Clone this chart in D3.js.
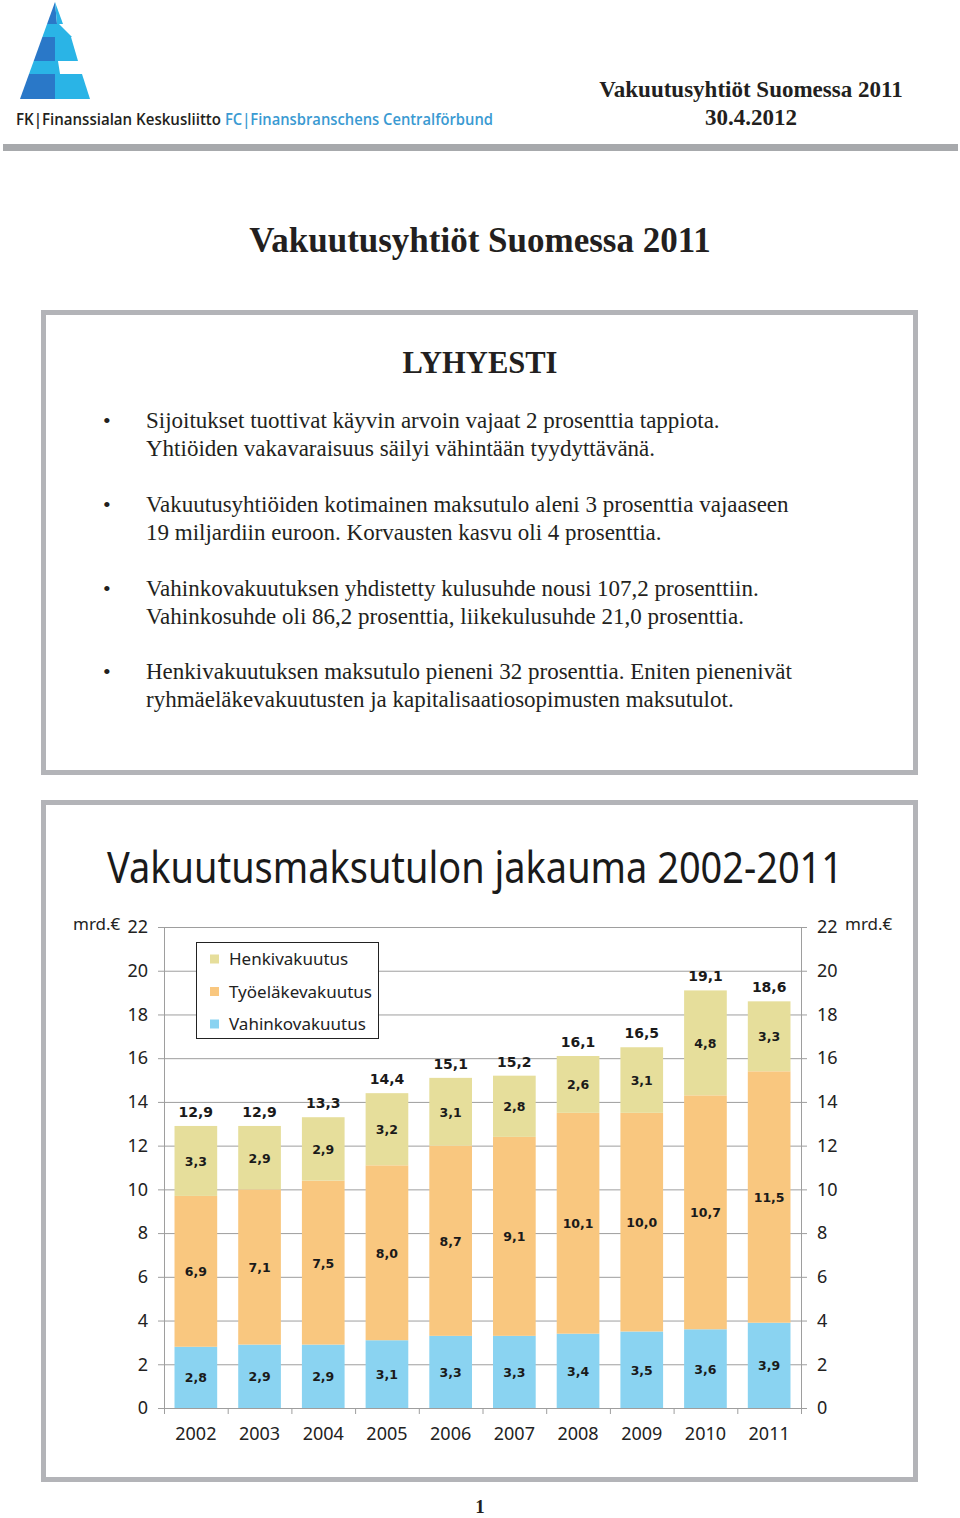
<!DOCTYPE html>
<html>
<head>
<meta charset="utf-8">
<script src="https://cdn.jsdelivr.net/npm/d3@7"></script>
<style>
  html, body { margin: 0; padding: 0; background: #fff; }
  svg { display: block; }
</style>
</head>
<body>
<script>
// ---------- DATA ----------
const years = ["2002","2003","2004","2005","2006","2007","2008","2009","2010","2011"];
const henkivakuutus = [3.3, 2.9, 2.9, 3.2, 3.1, 2.8, 2.6, 3.1, 4.8, 3.3];
const tyoelakevakuutus = [6.9, 7.1, 7.5, 8.0, 8.7, 9.1, 10.1, 10.0, 10.7, 11.5];
const vahinkovakuutus = [2.8, 2.9, 2.9, 3.1, 3.3, 3.3, 3.4, 3.5, 3.6, 3.9];
const totals = [12.9, 12.9, 13.3, 14.4, 15.1, 15.2, 16.1, 16.5, 19.1, 18.6];
const yTicks = [0, 2, 4, 6, 8, 10, 12, 14, 16, 18, 20, 22];
const seriesNames = ["Henkivakuutus", "Työeläkevakuutus", "Vahinkovakuutus"];
const seriesColors = ["#e6de9b", "#f9c77f", "#8ad3f1"];

const bullets = [
  ["Sijoitukset tuottivat käyvin arvoin vajaat 2 prosenttia tappiota.",
   "Yhtiöiden vakavaraisuus säilyi vähintään tyydyttävänä."],
  ["Vakuutusyhtiöiden kotimainen maksutulo aleni 3 prosenttia vajaaseen",
   "19 miljardiin euroon. Korvausten kasvu oli 4 prosenttia."],
  ["Vahinkovakuutuksen yhdistetty kulusuhde nousi 107,2 prosenttiin.",
   "Vahinkosuhde oli 86,2 prosenttia, liikekulusuhde 21,0 prosenttia."],
  ["Henkivakuutuksen maksutulo pieneni 32 prosenttia. Eniten pienenivät",
   "ryhmäeläkevakuutusten ja kapitalisaatiosopimusten maksutulot."]
];

// ---------- PAGE ----------
const W = 960, H = 1518;
const svg = d3.select("body").append("svg").attr("width", W).attr("height", H);
svg.append("rect").attr("width", W).attr("height", H).attr("fill", "#fff");

const serif = "'Liberation Serif', 'Times New Roman', serif";
const sans = "'Noto Sans', 'Open Sans', sans-serif";

// Logo
const logo = svg.append("g");
const dark = "#2a78c8", light = "#2ab4e6";
const lx = y => 55 - 35 * (y - 2) / 97;
const polys = [
  [[[55,2],[lx(24),24],[57,24]], dark],
  [[[55,2],[57,24],[63,24]], light],
  [[[lx(24),24],[lx(37),37],[72,37],[59,24]], light],
  [[[lx(37),37],[lx(61),61],[55,61],[55,37]], dark],
  [[[55,37],[55,61],[78,61],[71,37]], light],
  [[[lx(61),61],[lx(74),74],[60,74],[58,61]], light],
  [[[lx(74),74],[lx(99),99],[55,99],[55,74]], dark],
  [[[55,74],[55,99],[90,99],[82,74]], light]
];
polys.forEach(([pts, c]) => {
  logo.append("path").attr("d", "M" + pts.map(p => p.join(",")).join("L") + "Z").attr("fill", c);
});

svg.append("text").attr("x", 16).attr("y", 125)
  .attr("font-family", "'Open Sans', sans-serif").attr("font-size", 16).attr("font-weight", 600)
  .attr("fill", "#231f20").attr("textLength", 205).attr("lengthAdjust", "spacingAndGlyphs")
  .text("FK|Finanssialan Keskusliitto");
svg.append("text").attr("x", 225).attr("y", 125)
  .attr("font-family", "'Open Sans', sans-serif").attr("font-size", 16).attr("font-weight", 600)
  .attr("fill", "#3a9ad2").attr("textLength", 268).attr("lengthAdjust", "spacingAndGlyphs")
  .text("FC|Finansbranschens Centralförbund");

svg.append("text").attr("x", 751).attr("y", 97).attr("text-anchor", "middle")
  .attr("font-family", serif).attr("font-weight", "bold").attr("font-size", 23)
  .attr("fill", "#231f20").text("Vakuutusyhtiöt Suomessa 2011");
svg.append("text").attr("x", 751).attr("y", 125).attr("text-anchor", "middle")
  .attr("font-family", serif).attr("font-weight", "bold").attr("font-size", 23)
  .attr("fill", "#231f20").text("30.4.2012");

svg.append("rect").attr("x", 3).attr("y", 144).attr("width", 955).attr("height", 7).attr("fill", "#a7a9ac");

svg.append("text").attr("x", 480).attr("y", 252).attr("text-anchor", "middle")
  .attr("font-family", serif).attr("font-weight", "bold").attr("font-size", 35)
  .attr("fill", "#231f20").text("Vakuutusyhtiöt Suomessa 2011");

// Box 1
svg.append("rect").attr("x", 43.5).attr("y", 312.5).attr("width", 872).attr("height", 460)
  .attr("fill", "none").attr("stroke", "#b3b4b8").attr("stroke-width", 5);
svg.append("text").attr("x", 480).attr("y", 373).attr("text-anchor", "middle")
  .attr("font-family", serif).attr("font-weight", "bold").attr("font-size", 32)
  .attr("fill", "#231f20").attr("textLength", 155).attr("lengthAdjust", "spacingAndGlyphs")
  .text("LYHYESTI");
const bulletY = [428, 512, 596, 679];
bullets.forEach((lines, i) => {
  svg.append("text").attr("x", 103).attr("y", bulletY[i])
    .attr("font-family", serif).attr("font-size", 22).attr("fill", "#231f20").text("•");
  lines.forEach((ln, j) => {
    svg.append("text").attr("x", 146).attr("y", bulletY[i] + j * 28)
      .attr("font-family", serif).attr("font-size", 23).attr("fill", "#231f20").text(ln);
  });
});

// Box 2
svg.append("rect").attr("x", 43.5).attr("y", 802.5).attr("width", 872).attr("height", 677)
  .attr("fill", "none").attr("stroke", "#b3b4b8").attr("stroke-width", 5);

const title = svg.append("text").attr("text-anchor", "middle")
  .attr("transform", "translate(475,883) scale(1,1.15)")
  .attr("font-family", sans).attr("font-size", 47).attr("fill", "#1a1a1a")
  .text("Vakuutusmaksutulon jakauma 2002-2011");
const tl = title.node().getComputedTextLength();
if (tl > 0) title.attr("font-size", Math.min(50, 47 * 736 / tl));

// Page number
svg.append("text").attr("x", 480).attr("y", 1513).attr("text-anchor", "middle")
  .attr("font-family", serif).attr("font-weight", "bold").attr("font-size", 19)
  .attr("fill", "#231f20").text("1");

// ---------- CHART ----------
const pl = 164, pr = 801, pt = 927, pb = 1408;
const x = d3.scaleBand().domain(years).range([pl, pr]).paddingInner(0.33).paddingOuter(0.165);
const y = d3.scaleLinear().domain([0, 22]).range([pb, pt]);
const xb = d3.scaleLinear().domain([0, years.length]).range([pl, pr]);
const fmt = v => d3.format(".1f")(v).replace(".", ",");
const gridColor = "#9e9e9e";

// grid
const grid = svg.append("g").attr("transform", `translate(${pl},0)`)
  .call(d3.axisLeft(y).tickValues(yTicks).tickSize(-(pr - pl)).tickFormat(""));
grid.select(".domain").remove();
grid.selectAll("line").attr("stroke", gridColor);

// left axis
const ax = svg.append("g").attr("transform", `translate(${pl},0)`)
  .call(d3.axisLeft(y).tickValues(yTicks).tickSize(6).tickPadding(10).tickFormat(d3.format("d")));
ax.selectAll("line, path").attr("stroke", gridColor);
ax.selectAll("text").attr("font-family", sans).attr("font-size", 18).attr("fill", "#222");

const axR = svg.append("g").attr("transform", `translate(${pr},0)`)
  .call(d3.axisRight(y).tickValues(yTicks).tickSize(6).tickPadding(10).tickFormat(d3.format("d")));
axR.selectAll("line, path").attr("stroke", gridColor);
axR.selectAll("text").attr("font-family", sans).attr("font-size", 18).attr("fill", "#222");

svg.append("text").attr("x", 73).attr("y", 930).attr("font-family", sans).attr("font-size", 17)
  .attr("fill", "#222").text("mrd.€");
svg.append("text").attr("x", 845).attr("y", 930).attr("font-family", sans).attr("font-size", 17)
  .attr("fill", "#222").text("mrd.€");

// x axis ticks at category boundaries
const axB = svg.append("g").attr("transform", `translate(0,${pb})`)
  .call(d3.axisBottom(xb).tickValues(d3.range(years.length + 1)).tickSize(6).tickFormat(""));
axB.selectAll("line, path").attr("stroke", gridColor);
const axL = svg.append("g").attr("transform", `translate(0,${pb})`)
  .call(d3.axisBottom(x).tickSize(0).tickPadding(19));
axL.select(".domain").remove();
axL.selectAll("text").attr("font-family", sans).attr("font-size", 18).attr("fill", "#222");

// stacked bars
const rows = years.map((yr, i) => ({
  year: yr, vah: vahinkovakuutus[i], tyo: tyoelakevakuutus[i], henki: henkivakuutus[i], total: totals[i]
}));
const segs = [];
rows.forEach(r => {
  segs.push({ year: r.year, y0: 0, y1: r.vah, v: r.vah, c: seriesColors[2] });
  segs.push({ year: r.year, y0: r.vah, y1: r.vah + r.tyo, v: r.tyo, c: seriesColors[1] });
  segs.push({ year: r.year, y0: r.vah + r.tyo, y1: r.total, v: r.henki, c: seriesColors[0] });
});
svg.append("g").selectAll("rect").data(segs).join("rect")
  .attr("x", d => x(d.year)).attr("width", x.bandwidth())
  .attr("y", d => y(d.y1)).attr("height", d => y(d.y0) - y(d.y1))
  .attr("fill", d => d.c);

svg.append("g").selectAll("text").data(segs).join("text")
  .attr("x", d => x(d.year) + x.bandwidth() / 2)
  .attr("y", d => y((d.y0 + d.y1) / 2) + 5)
  .attr("text-anchor", "middle")
  .attr("font-family", "'DejaVu Sans', sans-serif").attr("font-weight", "bold").attr("font-size", 12.5)
  .attr("fill", "#1a1a1a")
  .text(d => fmt(d.v));

svg.append("g").selectAll("text").data(rows).join("text")
  .attr("x", d => x(d.year) + x.bandwidth() / 2)
  .attr("y", d => y(d.total) - 9)
  .attr("text-anchor", "middle")
  .attr("font-family", "'DejaVu Sans', sans-serif").attr("font-weight", "bold").attr("font-size", 14)
  .attr("fill", "#1a1a1a")
  .text(d => fmt(d.total));

// legend
const lg = svg.append("g");
lg.append("rect").attr("x", 196.5).attr("y", 942.5).attr("width", 182).attr("height", 96)
  .attr("fill", "#fff").attr("stroke", "#222").attr("stroke-width", 1);
seriesNames.forEach((n, i) => {
  const cy = 959 + i * 32.5;
  lg.append("rect").attr("x", 210).attr("y", cy - 4.5).attr("width", 9).attr("height", 9).attr("fill", seriesColors[i]);
  lg.append("text").attr("x", 229).attr("y", cy + 6).attr("font-family", sans).attr("font-size", 17)
    .attr("fill", "#222").text(n);
});
</script>
</body>
</html>
